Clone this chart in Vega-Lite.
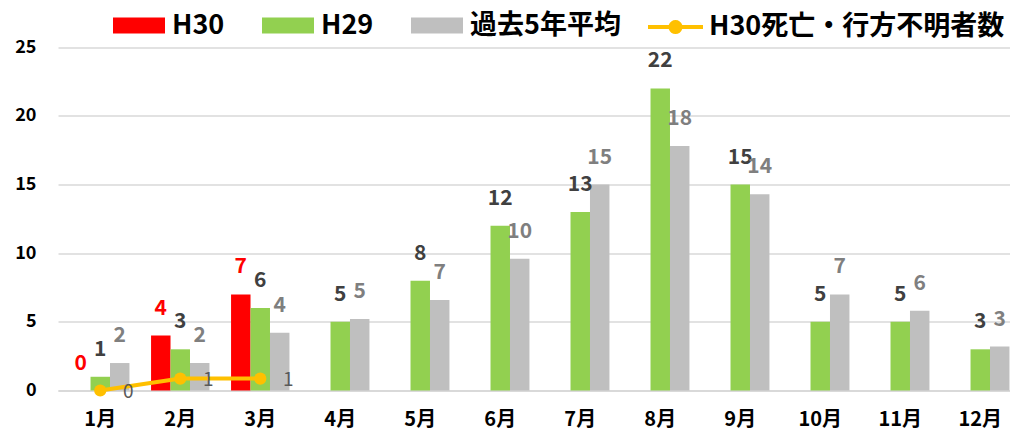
{
  "$schema": "https://vega.github.io/schema/vega-lite/v6.json",
  "width": 952,
  "height": 357,
  "autosize": {"type": "none"},
  "padding": {"left": 58, "top": 33.5, "right": 0, "bottom": 43.5},
  "background": "white",
  "config": {
    "view": {"stroke": null},
    "font": "Noto Sans CJK JP",
    "legend": {
      "labelFont": "Noto Sans CJK JP",
      "labelFontSize": 27,
      "labelFontWeight": "bold",
      "labelColor": "#000000",
      "labelLimit": 400,
      "padding": 0,
      "symbolStrokeWidth": 0,
      "symbolOpacity": 1
    }
  },
  "datasets": {
    "bars": [
      {"month": "1月", "series": "H30", "value": 0},
      {"month": "2月", "series": "H30", "value": 4},
      {"month": "3月", "series": "H30", "value": 7},
      {"month": "1月", "series": "H29", "value": 1},
      {"month": "2月", "series": "H29", "value": 3},
      {"month": "3月", "series": "H29", "value": 6},
      {"month": "4月", "series": "H29", "value": 5},
      {"month": "5月", "series": "H29", "value": 8},
      {"month": "6月", "series": "H29", "value": 12},
      {"month": "7月", "series": "H29", "value": 13},
      {"month": "8月", "series": "H29", "value": 22},
      {"month": "9月", "series": "H29", "value": 15},
      {"month": "10月", "series": "H29", "value": 5},
      {"month": "11月", "series": "H29", "value": 5},
      {"month": "12月", "series": "H29", "value": 3},
      {"month": "1月", "series": "過去5年平均", "value": 2.0},
      {"month": "2月", "series": "過去5年平均", "value": 2.0},
      {"month": "3月", "series": "過去5年平均", "value": 4.2},
      {"month": "4月", "series": "過去5年平均", "value": 5.2},
      {"month": "5月", "series": "過去5年平均", "value": 6.6},
      {"month": "6月", "series": "過去5年平均", "value": 9.6},
      {"month": "7月", "series": "過去5年平均", "value": 15.0},
      {"month": "8月", "series": "過去5年平均", "value": 17.8},
      {"month": "9月", "series": "過去5年平均", "value": 14.3},
      {"month": "10月", "series": "過去5年平均", "value": 7.0},
      {"month": "11月", "series": "過去5年平均", "value": 5.8},
      {"month": "12月", "series": "過去5年平均", "value": 3.2}
    ],
    "deaths": [
      {"month": "1月", "series": "H30死亡・行方不明者数", "value": 0},
      {"month": "2月", "series": "H30死亡・行方不明者数", "value": 1},
      {"month": "3月", "series": "H30死亡・行方不明者数", "value": 1}
    ]
  },
  "layer": [
    {
      "data": {"name": "bars"},
      "layer": [
        {
          "mark": {"type": "bar"},
          "encoding": {
            "x": {
              "field": "month",
              "type": "nominal",
              "scale": {
                "domain": ["1月", "2月", "3月", "4月", "5月", "6月", "7月", "8月", "9月", "10月", "11月", "12月"],
                "paddingInner": 0.27,
                "paddingOuter": 0.085,
                "align": 0.96
              },
              "axis": {
                "title": null,
                "labelAngle": 0,
                "labelFont": "Noto Sans CJK JP",
                "labelFontSize": 20,
                "labelFontWeight": "bold",
                "labelColor": "#000000",
                "labelPadding": 19,
                "ticks": false,
                "domainColor": "#D9D9D9",
                "domainWidth": 2,
                "grid": false
              }
            },
            "xOffset": {
              "field": "series",
              "type": "nominal",
              "scale": {"domain": ["H30", "H29", "過去5年平均"], "paddingInner": 0, "paddingOuter": 0}
            },
            "y": {
              "field": "value",
              "type": "quantitative",
              "scale": {"domain": [0, 25]},
              "axis": {
                "title": null,
                "values": [0, 5, 10, 15, 20, 25],
                "labelFont": "Noto Sans CJK JP",
                "labelFontSize": 18,
                "labelFontWeight": "bold",
                "labelColor": "#000000",
                "labelPadding": 22,
                "ticks": false,
                "domain": false,
                "gridColor": "#D9D9D9",
                "gridWidth": 1.5
              }
            },
            "color": {
              "field": "series",
              "type": "nominal",
              "scale": {"domain": ["H30", "H29", "過去5年平均"], "range": ["#FF0000", "#92D050", "#BFBFBF"]},
              "legend": {
                "orient": "none",
                "legendX": 55,
                "legendY": -34,
                "direction": "horizontal",
                "title": null,
                "symbolType": "M-1,-0.31H1V0.31H-1Z",
                "symbolSize": 2704,
                "labelOffset": 7,
                "columnPadding": 37
              }
            }
          }
        },
        {
          "mark": {"type": "text", "dy": -27, "fontSize": 21, "fontWeight": "bold", "baseline": "middle", "font": "Noto Sans CJK JP"},
          "encoding": {
            "x": {"field": "month", "type": "nominal"},
            "xOffset": {"field": "series", "type": "nominal"},
            "y": {"field": "value", "type": "quantitative"},
            "text": {"field": "value", "type": "quantitative", "format": ".0f"},
            "color": {
              "condition": [
                {"test": "datum.series === 'H30'", "value": "#FF0000"},
                {"test": "datum.series === 'H29'", "value": "#404040"}
              ],
              "value": "#7F7F7F"
            }
          }
        }
      ]
    },
    {
      "data": {"name": "deaths"},
      "layer": [
        {
          "mark": {"type": "line", "color": "#FFC000", "strokeWidth": 4},
          "encoding": {
            "x": {"field": "month", "type": "nominal"},
            "y": {"field": "value", "type": "quantitative", "scale": {"domain": [0, 30]}, "axis": null}
          }
        },
        {
          "mark": {"type": "point", "filled": true, "size": 150, "opacity": 1, "strokeWidth": 0},
          "encoding": {
            "x": {"field": "month", "type": "nominal"},
            "y": {"field": "value", "type": "quantitative"},
            "fill": {
              "field": "series",
              "type": "nominal",
              "scale": {"domain": ["H30死亡・行方不明者数"], "range": ["#FFC000"]},
              "legend": {
                "orient": "none",
                "legendX": 590,
                "legendY": -34,
                "direction": "horizontal",
                "title": null,
                "symbolType": "M-1,-0.073H-0.245A0.255,0.255 0 0 1 0.245,-0.073H1V0.073H0.245A0.255,0.255 0 0 1 -0.245,0.073H-1Z",
                "symbolSize": 3025,
                "labelOffset": 6
              }
            }
          }
        },
        {
          "mark": {"type": "text", "dx": 28, "dy": 1, "fontSize": 19, "baseline": "middle", "color": "#595959", "font": "Noto Sans CJK JP"},
          "encoding": {
            "x": {"field": "month", "type": "nominal"},
            "y": {"field": "value", "type": "quantitative"},
            "text": {"field": "value", "type": "quantitative", "format": ".0f"}
          }
        }
      ]
    }
  ],
  "resolve": {"scale": {"y": "independent"}}
}
